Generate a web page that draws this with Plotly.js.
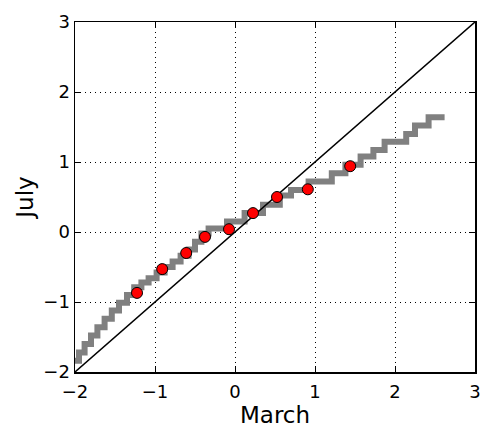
<!DOCTYPE html>
<html>
<head>
<meta charset="utf-8">
<script src="https://cdn.plot.ly/plotly-3.0.1.min.js"></script>
<style>html,body{margin:0;padding:0;background:#fff;}#chart{width:500px;height:438px;}</style>
</head>
<body>
<div id="chart"></div>
<script>
// Step (quantile) line: March quantiles vs July quantiles
const stepMarch = [-2.00,-1.95,-1.88,-1.80,-1.72,-1.63,-1.54,-1.45,-1.35,-1.26,-1.17,-1.08,-0.98,-0.88,-0.78,-0.68,-0.58,-0.50,-0.42,-0.33,-0.10,0.12,0.35,0.56,0.70,0.92,1.21,1.38,1.57,1.73,1.87,2.14,2.25,2.42,2.62];
const stepJuly  = [-1.84,-1.72,-1.60,-1.48,-1.36,-1.24,-1.12,-1.01,-0.90,-0.79,-0.72,-0.66,-0.58,-0.50,-0.42,-0.34,-0.25,-0.14,-0.02,0.05,0.15,0.27,0.39,0.52,0.60,0.72,0.84,0.96,1.08,1.17,1.29,1.40,1.52,1.64,1.64];
// Highlighted quantiles (red points)
const pointMarch = [-1.225,-0.91,-0.61,-0.375,-0.075,0.225,0.525,0.91,1.44];
const pointJuly  = [-0.87,-0.53,-0.30,-0.07,0.04,0.27,0.50,0.61,0.94];
// Reference diagonal y = x
const diagonal = [-2, 3];
const tickVals = [-2,-1,0,1,2,3];

const traces = [
  {x: stepMarch, y: stepJuly, type:'scatter', mode:'lines',
   line:{shape:'hv', color:'#808080', width:6}, hoverinfo:'skip'},
  {x: diagonal, y: diagonal, type:'scatter', mode:'lines',
   line:{color:'#000000', width:1.5}, hoverinfo:'skip'},
  {x: pointMarch, y: pointJuly, type:'scatter', mode:'markers',
   marker:{color:'#ff0000', size:11, line:{color:'#000000', width:1}}}
];

const axisCommon = {
  range:[-2,3], tickvals: tickVals, ticks:'inside', ticklen:6, tickwidth:1, tickcolor:'#000',
  showline:true, mirror:'ticks', linecolor:'#000', linewidth:1.5,
  showgrid:true, gridcolor:'#000', gridwidth:1, griddash:'1px,4px',
  zeroline:false, tickfont:{family:'DejaVu Sans', size:18, color:'#000'}
};

const layout = {
  width:500, height:438,
  margin:{l:75, r:25, t:22, b:66},
  paper_bgcolor:'#fff', plot_bgcolor:'#fff',
  showlegend:false,
  xaxis: Object.assign({}, axisCommon, {
    ticklabelstandoff: 3,
    title:{text:'March', font:{family:'DejaVu Sans', size:23, color:'#000'}, standoff:6}
  }),
  yaxis: Object.assign({}, axisCommon, {
    title:{text:'July', font:{family:'DejaVu Sans', size:23, color:'#000'}, standoff:3}
  })
};

Plotly.newPlot('chart', traces, layout, {displayModeBar:false, staticPlot:true});
</script>
</body>
</html>
